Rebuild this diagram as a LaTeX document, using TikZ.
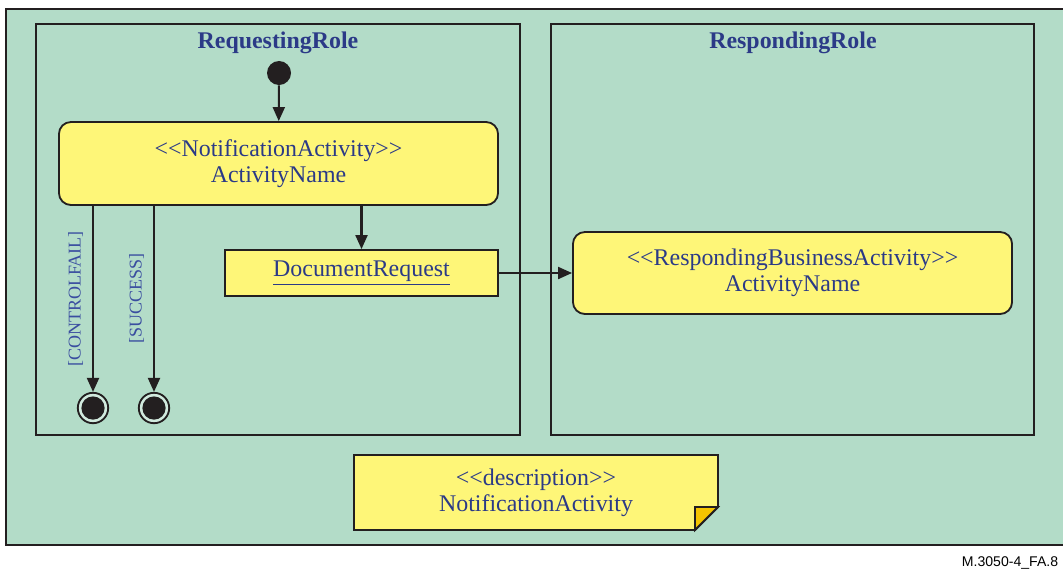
\documentclass[tikz,border=0pt]{standalone}
\usepackage{fontspec}
\usepackage{xcolor}
\usepackage{tikz}
\usetikzlibrary{shapes,arrows.meta,positioning}
\setmainfont{Liberation Serif}
\newfontfamily\figfont{Liberation Sans}
\newcommand{\stereo}[1]{\textless\kern0pt\textless#1\textgreater\kern0pt\textgreater}

\definecolor{bggreen}{HTML}{B3DCC8}
\definecolor{boxyellow}{HTML}{FEF678}
\definecolor{foldorange}{HTML}{F5C400}
\definecolor{textblue}{HTML}{2B3A87}
\definecolor{guardblue}{HTML}{3A4EA0}
\definecolor{linec}{HTML}{231F20}

\begin{document}
\begin{tikzpicture}[x=0.025cm, y=-0.025cm,
    every node/.style={text=textblue, font=\fontsize{17}{18.5}\selectfont},
    lane/.style={draw=linec, line width=1.3pt},
    roletitle/.style={font=\fontsize{17}{18.5}\selectfont\bfseries},
    activity/.style={draw=linec, fill=boxyellow, line width=1.3pt, rectangle, rounded corners=0.3cm, align=center, minimum width=10.975cm},
    docbox/.style={draw=linec, fill=boxyellow, line width=1.3pt, rectangle, minimum width=6.825cm, minimum height=1.15cm},
    startstate/.style={circle, fill=linec, minimum size=0.6cm, inner sep=0pt},
    endstate/.style={circle, draw=linec, line width=1.3pt, fill=white!40!bggreen, minimum size=0.76cm, inner sep=0pt,
        path picture={\fill[linec] (path picture bounding box.center) circle (0.29cm);}},
    guard/.style={text=guardblue, font=\fontsize{12.8}{14}\selectfont, rotate=90},
    flow/.style={-{Triangle[length=0.35cm, width=0.3cm]}, draw=linec, line width=1.5pt}]

    \useasboundingbox (0,0) rectangle (1063,572);
    \draw[fill=bggreen, draw=linec, line width=1.5pt] (6,9) rectangle (1090,545);

    % swimlanes
    \draw[lane] (36,24) rectangle (520,435);
    \draw[lane] (551,24) rectangle (1034,435);
    \node[roletitle] (reqtitle) at (278,43) {RequestingRole};
    \node[roletitle] (resptitle) at (793,43) {RespondingRole};

    % requesting side
    \node[startstate] (start) at (279,73) {};
    \node[activity, minimum height=2.075cm] (notify) at (278.5,163.5) {\stereo{NotificationActivity}\\ActivityName};
    \node[docbox] (docreq) at (361.5,273) {\underline{DocumentRequest}};
    \node[endstate] (failend) at (93,408) {};
    \node[endstate] (succend) at (154,408) {};

    % responding side
    \node[activity, minimum height=2.05cm] (respond) at (792.5,273) {\stereo{RespondingBusinessActivity}\\ActivityName};

    \draw[flow] (start) -- (notify);
    \draw[flow] (docreq.north |- notify.south) -- (docreq.north);
    \draw[flow] (failend.north |- notify.south) -- node[guard, anchor=south, yshift=3pt] {[CONTROLFAIL]} (failend.north);
    \draw[flow] (succend.north |- notify.south) -- node[guard, anchor=south, yshift=3pt] {[SUCCESS]} (succend.north);
    \draw[flow] (docreq.east) -- (respond.west);

    % description note
    \coordinate (nw) at (354,455);
    \coordinate (ne) at (718,455);
    \coordinate (fa) at (718,507);
    \coordinate (fb) at (695,530);
    \coordinate (sw) at (354,530);
    \draw[fill=boxyellow, draw=linec, line width=1.3pt] (nw) -- (ne) -- (fa) -- (fb) -- (sw) -- cycle;
    \draw[fill=foldorange, draw=linec, line width=1.3pt] (fa) -- (fb) -- (695,507) -- cycle;
    \node[align=center] (note) at (536,492.5) {\stereo{description}\\NotificationActivity};

    \node[anchor=base west, text=black, font=\figfont\fontsize{10}{12}\selectfont] (figid) at (957,566) {M.3050-4\_FA.8};
\end{tikzpicture}
\end{document}
